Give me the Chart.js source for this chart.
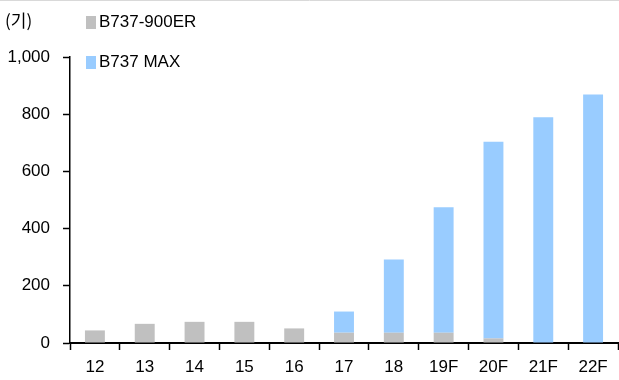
<!DOCTYPE html>
<html>
<head>
<meta charset="utf-8">
<script src="https://cdn.jsdelivr.net/npm/chart.js@4/dist/chart.umd.min.js"></script>
<style>
  body { margin: 0; background: #fff; }
  #wrap { width: 619px; height: 380px; }
</style>
</head>
<body>
<div id="wrap"><canvas id="chart" width="619" height="380"></canvas></div>
<script>
// 연도 (F = 전망)
var years = ["12", "13", "14", "15", "16", "17", "18", "19F", "20F", "21F", "22F"];
var b737_900er = [44, 67, 74, 74, 51, 36, 36, 36, 16, 0, 0];
var b737_max = [0, 0, 0, 0, 0, 74, 256, 439, 688, 789, 869];
var unitLabel = "(기)";
var yTicks = [0, 200, 400, 600, 800, 1000];

var fontFam = "'Liberation Sans', Arial, sans-serif";

// 범례 + 단위 + 상단선
var extraPlugin = {
  id: 'extra',
  afterDraw: function(chart) {
    var ctx = chart.ctx;
    ctx.save();
    ctx.strokeStyle = '#d9d9d9';
    ctx.lineWidth = 1;
    ctx.beginPath();
    ctx.moveTo(0, 0.5);
    ctx.lineTo(619, 0.5);
    ctx.stroke();

    ctx.fillStyle = '#000';
    ctx.textBaseline = 'middle';
    ctx.textAlign = 'left';
    ctx.font = "17px 'Noto Sans CJK KR', sans-serif";
    ctx.fillText(unitLabel, 5, 21);

    ctx.font = '17px ' + fontFam;
    var ys = [22, 62];
    chart.data.datasets.forEach(function(ds, i) {
      ctx.fillStyle = ds.backgroundColor;
      ctx.fillRect(86, ys[i] - 6, 10, 13);
      ctx.fillStyle = '#000';
      ctx.fillText(ds.label, 99, ys[i]);
    });
    ctx.restore();
  }
};

var chart = new Chart(document.getElementById('chart'), {
  type: 'bar',
  data: {
    labels: years,
    datasets: [{
      label: 'B737-900ER',
      data: b737_900er,
      backgroundColor: '#c0c0c0',
      barPercentage: 0.4,
      categoryPercentage: 1.0
    }, {
      label: 'B737 MAX',
      data: b737_max,
      backgroundColor: '#99ccff',
      barPercentage: 0.4,
      categoryPercentage: 1.0
    }]
  },
  options: {
    responsive: false,
    animation: false,
    layout: { padding: { left: 0, right: 1, top: 57, bottom: 0 } },
    plugins: {
      legend: { display: false },
      tooltip: { enabled: false }
    },
    scales: {
      x: {
        stacked: true,
        grid: {
          drawOnChartArea: false,
          offset: true,
          tickLength: 7,
          tickColor: '#000',
          tickWidth: 1.5
        },
        border: { color: '#000', width: 2 },
        ticks: {
          color: '#000',
          font: { family: fontFam, size: 17 },
          padding: 7,
          maxRotation: 0
        },
        afterFit: function(scale) { scale.height = 37; }
      },
      y: {
        stacked: true,
        min: 0,
        max: 1000,
        afterBuildTicks: function(scale) {
          scale.ticks = yTicks.map(function(v) { return { value: v }; });
        },
        grid: {
          drawOnChartArea: false,
          tickLength: 7,
          tickColor: '#000',
          tickWidth: 1.5
        },
        border: { color: '#000', width: 1.5 },
        ticks: {
          color: '#000',
          font: { family: fontFam, size: 17 },
          padding: 13,
          callback: function(v) { return v.toLocaleString('en-US'); }
        },
        afterFit: function(scale) { scale.width = 70; }
      }
    }
  },
  plugins: [extraPlugin]
});
</script>
</body>
</html>
